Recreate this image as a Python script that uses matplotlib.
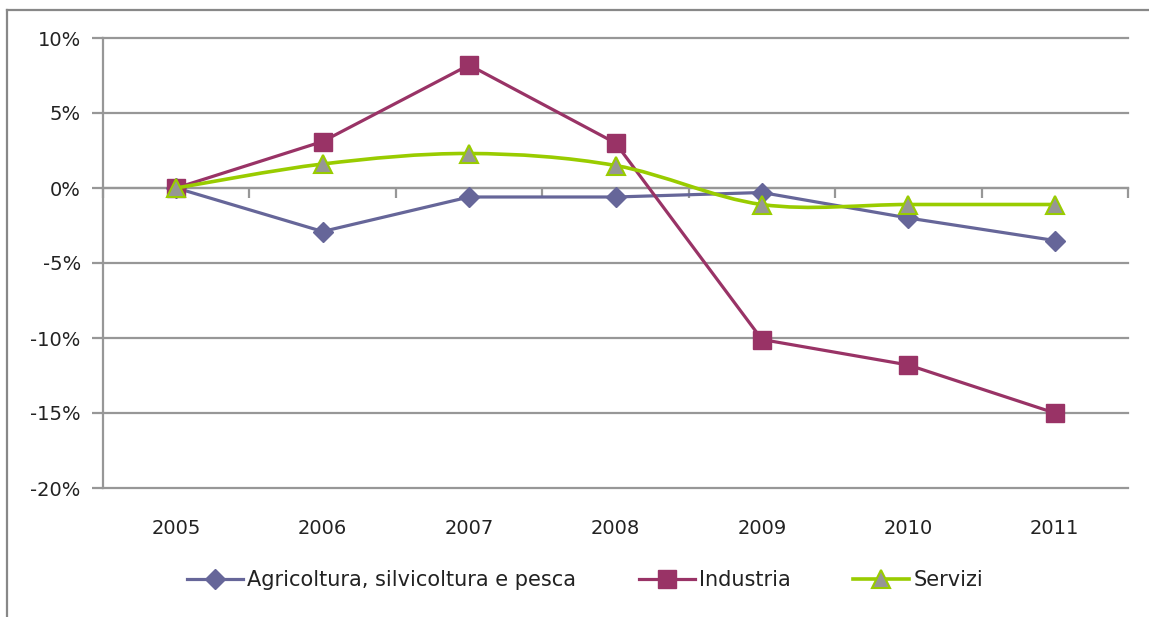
import numpy as np
import matplotlib
matplotlib.use('Agg')
import matplotlib.pyplot as plt
from matplotlib.path import Path
from matplotlib.patches import PathPatch
from matplotlib.lines import Line2D

years = ['2005', '2006', '2007', '2008', '2009', '2010', '2011']
agricoltura = [0.0, -2.9, -0.6, -0.6, -0.3, -2.0, -3.5]
industria = [0.0, 3.1, 8.2, 3.0, -10.1, -11.8, -15.0]
servizi = [0.0, 1.6, 2.3, 1.5, -1.1, -1.1, -1.1]
yticks = [10, 5, 0, -5, -10, -15, -20]

c_agri = '#666699'
c_ind = '#993366'
c_serv = '#99cc00'
c_grid = '#979797'


def smooth_path(x, y):
  # bezier curve through the points, like the "smoothed line" option
  p = np.column_stack([x, y]).astype(float)
  n = len(p)
  verts = [p[0]]
  codes = [Path.MOVETO]
  for i in range(n - 1):
    p0 = p[max(i - 1, 0)]
    p1 = p[i]
    p2 = p[i + 1]
    p3 = p[min(i + 2, n - 1)]
    verts += [p1 + (p2 - p0) / 6., p2 - (p3 - p1) / 6., p2]
    codes += [Path.CURVE4] * 3
  return Path(verts, codes)


fig = plt.figure(figsize=(11.49, 6.17), dpi=100)
ax = fig.add_axes([103/1149., 1 - 488/617., (1128 - 103)/1149., (488 - 38)/617.])

x = np.arange(len(years))

ax.plot(x, agricoltura, color=c_agri, lw=2.3, marker='D', ms=10.5,
        mfc=c_agri, mec=c_agri, label='Agricoltura, silvicoltura e pesca', zorder=3)
ax.plot(x, industria, color=c_ind, lw=2.3, marker='s', ms=12.5,
        mfc=c_ind, mec=c_ind, label='Industria', zorder=4)
ax.add_patch(PathPatch(smooth_path(x, servizi), fill=False, ec=c_serv, lw=2.6, zorder=5))
ax.plot(x, servizi, ls='none', marker='^', ms=13, mfc='#969696', mec=c_serv,
        mew=1.5, zorder=6)
# legend handle for the smoothed series
h_serv = Line2D([], [], color=c_serv, lw=2.6, marker='^', ms=13,
                mfc='#969696', mec=c_serv, mew=1.5, label='Servizi')

ax.set_xlim(-0.5, len(years) - 0.5)
ax.set_ylim(-20, 10)

for s in ['top', 'right']:
  ax.spines[s].set_visible(False)
ax.spines['left'].set_color(c_grid)
ax.spines['left'].set_linewidth(1.6)
ax.spines['bottom'].set_position(('data', 0))
ax.spines['bottom'].set_color(c_grid)
ax.spines['bottom'].set_linewidth(1.6)

ax.set_yticks(yticks)
ax.set_yticklabels(['%d%%' % v for v in yticks])
ax.yaxis.grid(True, color=c_grid, lw=1.6)
for gl in ax.get_ygridlines():
  gl.set_clip_on(False)
ax.set_axisbelow(True)
ax.tick_params(axis='y', length=8, width=1.6, color=c_grid, pad=8,
               labelsize=14, labelcolor='#222222')

ax.set_xticks(np.arange(len(years) + 1) - 0.5)
ax.tick_params(axis='x', length=7, width=1.6, color=c_grid, labelbottom=False)

sec = ax.secondary_xaxis('bottom')
sec.set_xticks(x)
sec.set_xticklabels(years)
sec.tick_params(length=0, pad=22, labelsize=14, labelcolor='#222222')
sec.spines['bottom'].set_visible(False)

leg = fig.legend(handles=[ax.lines[0], ax.lines[1], h_serv], loc='center',
                 bbox_to_anchor=(585/1149., 1 - 580/617.), ncol=3, frameon=False,
                 fontsize=15, handlelength=2.7, handletextpad=0.2, columnspacing=3.0)
for t in leg.get_texts():
  t.set_color('#222222')

# outer chart frame
fig.add_artist(Line2D([7/1149., 1], [1 - 10/617., 1 - 10/617.], color='#888888', lw=1.6))
fig.add_artist(Line2D([7/1149., 7/1149.], [0, 1 - 10/617.], color='#888888', lw=1.6))

fig.savefig('out.png', dpi=100)
